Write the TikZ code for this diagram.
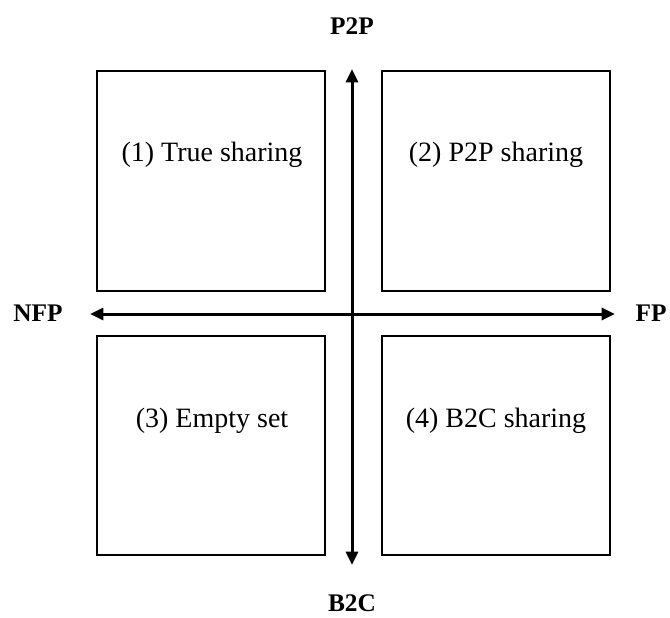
\documentclass[tikz,border=0pt]{standalone}
\usepackage{fontspec}
\setmainfont{Liberation Serif}
\usetikzlibrary{arrows.meta, positioning}

\begin{document}
\begin{tikzpicture}[x=0.75pt, y=-0.75pt, >={Triangle[length=10pt, width=9pt]}]
	\tikzstyle{quad} = [draw=black, line width=1.5pt, minimum width=171pt, minimum height=164.5pt, inner sep=0pt]
	\tikzstyle{qtext} = [draw=none, font=\fontsize{21}{25}\selectfont]
	\tikzstyle{axis} = [draw=none, font=\fontsize{19}{23}\selectfont\bfseries]
	\tikzstyle{axisline} = [line width=2.25pt]

	\useasboundingbox (0,0) rectangle (670,617);

	\node[quad]		at (211, 181)	(q1)	{};
	\node[quad]		at (495.5, 181)	(q2)	{};
	\node[quad]		at (211, 445.5)	(q3)	{};
	\node[quad]		at (495.5, 445.5)	(q4)	{};

	\node[qtext]	at (212, 155)	(t1)	{(1) True sharing};
	\node[qtext]	at (496, 155)	(t2)	{(2) P2P sharing};
	\node[qtext]	at (212, 421)	(t3)	{(3) Empty set};
	\node[qtext]	at (496, 421)	(t4)	{(4) B2C sharing};

	\node[axis]		at (352, 26)	(top)	{P2P};
	\node[axis]		at (352, 603)	(bot)	{B2C};
	\node[axis]		at (38, 313)	(left)	{NFP};
	\node[axis]		at (651, 313)	(right)	{FP};

	\coordinate (n) at (352, 69);
	\coordinate (s) at (352, 565);
	\coordinate (w) at (90, 314);
	\coordinate (e) at (615, 314);

	\draw[axisline, <->] (s) -- (n);
	\draw[axisline, <->] (w) -- (e);
\end{tikzpicture}
\end{document}
